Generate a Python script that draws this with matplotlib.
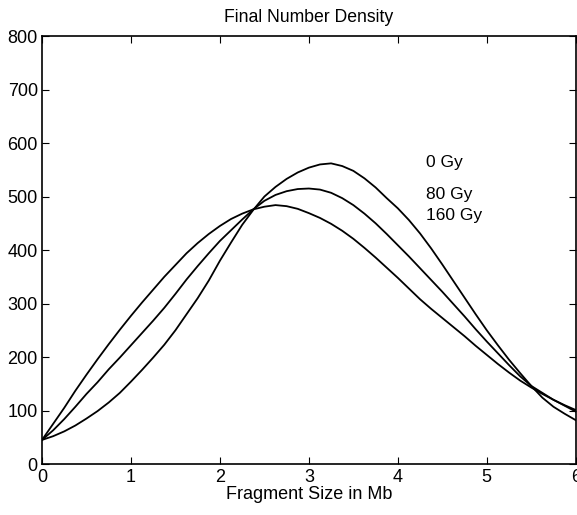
import matplotlib.pyplot as plt
import numpy as np

plt.rcParams['font.family'] = ['Liberation Sans', 'DejaVu Sans']

# fragment size (Mb), values every 0.125 Mb
size_mb = [0, 0.125, 0.25, 0.375, 0.5, 0.625, 0.75, 0.875, 1.0, 1.125, 1.25, 1.375,
           1.5, 1.625, 1.75, 1.875, 2.0, 2.125, 2.25, 2.375, 2.5, 2.625, 2.75, 2.875,
           3.0, 3.125, 3.25, 3.375, 3.5, 3.625, 3.75, 3.875, 4.0, 4.125, 4.25, 4.375,
           4.5, 4.625, 4.75, 4.875, 5.0, 5.125, 5.25, 5.375, 5.5, 5.625, 5.75, 5.875, 6.0]

dens_0gy = [45, 52, 61, 72, 85, 99, 115, 133, 154, 176, 199, 223,
            250, 280, 310, 343, 380, 414, 447, 475, 500, 518, 533, 545,
            554, 560, 562, 557, 548, 534, 517, 497, 478, 456, 431, 403,
            373, 342, 311, 280, 250, 222, 195, 170, 146, 124, 107, 94, 82]
dens_80gy = [45, 63, 84, 107, 131, 153, 177, 199, 222, 245, 268, 292,
             318, 345, 370, 394, 417, 437, 457, 476, 492, 503, 510, 514,
             515, 513, 507, 497, 484, 468, 450, 430, 409, 388, 366, 344,
             322, 299, 276, 252, 229, 207, 185, 164, 146, 133, 120, 110, 101]
dens_160gy = [45, 75, 105, 137, 167, 196, 224, 251, 277, 302, 326, 350,
              372, 394, 413, 430, 445, 458, 468, 476, 481, 484, 482, 477,
              469, 460, 449, 436, 421, 404, 386, 367, 348, 328, 308, 290,
              273, 256, 239, 221, 204, 187, 171, 156, 143, 131, 120, 109, 98]

labels = ['0 Gy', '80 Gy', '160 Gy']
label_y = [563, 503, 464]

fig = plt.figure(figsize=(5.77, 5.15), dpi=100)
ax = fig.add_axes([0.0728, 0.099, 0.925, 0.831])

for d in (dens_0gy, dens_80gy, dens_160gy):
    ax.plot(size_mb, d, color='black', lw=1.3)

for lab, yy in zip(labels, label_y):
    ax.text(4.32, yy, lab, fontsize=12.5, va='center', ha='left')

ax.set_xlim(0, 6)
ax.set_ylim(0, 800)
ax.set_xticks(np.arange(0, 7, 1))
ax.set_yticks(np.arange(0, 900, 100))
ax.tick_params(direction='in', top=True, right=True, length=5, labelsize=13)
ax.tick_params(axis='y', pad=3)
ax.set_title('Final Number Density', fontsize=12.7, pad=10)
ax.set_xlabel('Fragment Size in Mb', fontsize=13, labelpad=0)
for s in ax.spines.values():
    s.set_linewidth(1.2)

fig.savefig('out.png', dpi=100)
